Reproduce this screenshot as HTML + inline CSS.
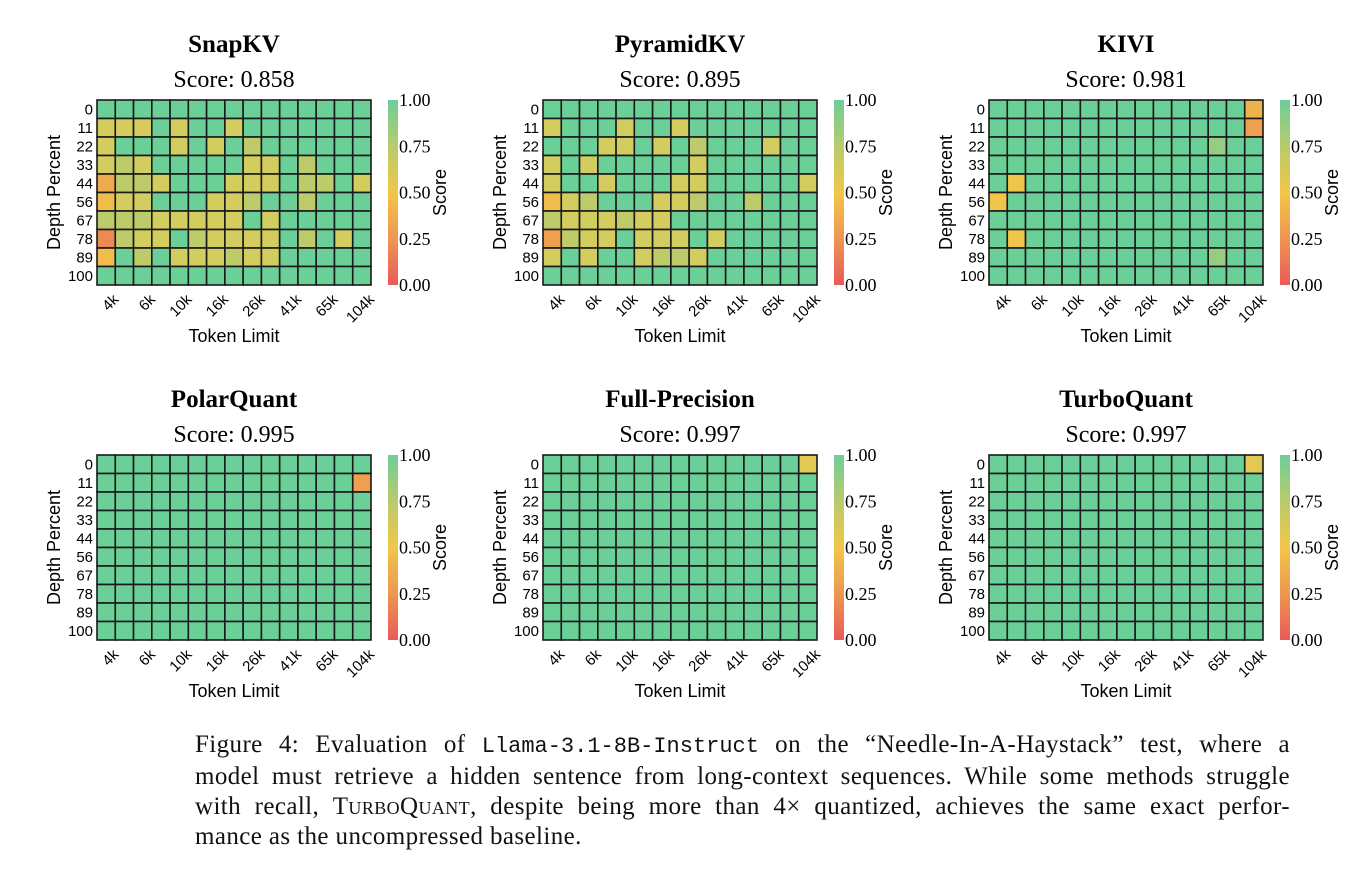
<!DOCTYPE html>
<html><head><meta charset="utf-8"><style>
body{margin:0;background:#fff;width:1356px;height:888px;overflow:hidden;position:relative}
svg{position:absolute;left:0;top:0}
#cap{position:absolute;left:195px;top:730px;width:1095px;font-family:"Liberation Serif",serif;font-size:25px;letter-spacing:0.4px;line-height:30px;color:#111}
#cap div{text-align:justify;text-align-last:justify;white-space:nowrap}
#cap div.last{text-align-last:left}
.mono{font-family:"Liberation Mono",monospace;font-size:22px;letter-spacing:0}
.sc{font-variant:small-caps}
</style></head><body>
<svg id="fig" width="1356" height="720">
<defs><linearGradient id="cm" x1="0" y1="1" x2="0" y2="0">
<stop offset="0" stop-color="#e85a5a"/><stop offset="0.25" stop-color="#ee9650"/><stop offset="0.5" stop-color="#f2c64a"/><stop offset="0.75" stop-color="#b9cb6c"/><stop offset="1" stop-color="#6bcf98"/></linearGradient></defs>
</svg>
<div id="cap">
<div>Figure 4: Evaluation of <span class="mono">Llama-3.1-8B-Instruct</span> on the “Needle-In-A-Haystack” test, where a</div>
<div>model must retrieve a hidden sentence from long-context sequences. While some methods struggle</div>
<div>with recall, <span class="sc">TurboQuant</span>, despite being more than 4× quantized, achieves the same exact perfor-</div>
<div class="last">mance as the uncompressed baseline.</div>
</div>
<script>
const depths=[0,11,22,33,44,56,67,78,89,100];
const tokenTicks=["4k","6k","10k","16k","26k","41k","65k","104k"];
const nCols=15;
const titles=["SnapKV","PyramidKV","KIVI","PolarQuant","Full-Precision","TurboQuant"];
const scores=["0.858","0.895","0.981","0.995","0.997","0.997"];
const cbTicks=[0,0.25,0.5,0.75,1];
function G(){return Array(15).fill(1);}
const snapkv=[G(),
[.6,.6,.6,1,.6,1,1,.6,1,1,1,1,1,1,1],
[.6,1,1,1,.6,1,.6,1,.7,1,1,1,1,1,1],
[.6,.7,.6,1,1,1,1,1,.6,.6,1,.7,1,1,1],
[.35,.7,.7,.6,1,1,1,.6,.6,.6,1,.7,.7,1,.6],
[.45,.6,.6,1,1,1,.6,.6,.7,1,1,.7,1,1,1],
[.7,.7,.7,.6,.6,.6,.6,.6,1,.6,1,1,1,1,1],
[.2,.7,.6,.6,1,.7,.6,.6,.6,.6,1,.7,1,.6,1],
[.45,1,.7,1,.6,.6,.6,.7,.6,.6,1,1,1,1,1],G()];
const pyramidkv=[G(),
[.6,1,1,1,.6,1,1,.6,1,1,1,1,1,1,1],
[1,1,1,.6,.6,1,.6,1,.7,1,1,1,.6,1,1],
[.6,1,.6,1,1,1,1,1,.6,1,1,1,1,1,1],
[.6,1,1,.6,1,1,1,.6,.6,1,1,1,1,1,.6],
[.45,.6,.7,1,1,1,.6,.6,.7,1,1,.7,1,1,1],
[.7,.6,.6,.6,.7,.6,.6,1,1,1,1,1,1,1,1],
[.3,.7,.6,.6,1,.6,.6,.6,1,.6,1,1,1,1,1],
[.6,1,.6,1,1,.6,.7,.7,.6,1,1,1,1,1,1],G()];
const kivi=[G(),G(),G(),G(),G(),G(),G(),G(),G(),G()];
kivi[0][14]=.4;kivi[1][14]=.3;kivi[2][12]=.85;kivi[4][1]=.5;kivi[5][0]=.5;kivi[7][1]=.5;kivi[8][12]=.85;
const polar=[G(),G(),G(),G(),G(),G(),G(),G(),G(),G()];polar[1][14]=.3;
const full=[G(),G(),G(),G(),G(),G(),G(),G(),G(),G()];full[0][14]=.55;
const turbo=[G(),G(),G(),G(),G(),G(),G(),G(),G(),G()];turbo[0][14]=.55;
const datasets=[snapkv,pyramidkv,kivi,polar,full,turbo];

const stops=[[0,[232,90,90]],[.25,[238,150,80]],[.5,[240,198,74]],[.6,[211,204,94]],[.7,[190,203,106]],[1,[107,207,152]]];
function color(v){for(let i=1;i<stops.length;i++){if(v<=stops[i][0]){const a=stops[i-1],b=stops[i];const t=(v-a[0])/(b[0]-a[0]);const c=a[1].map((x,k)=>Math.round(x+(b[1][k]-x)*t));return`rgb(${c})`;}}return'rgb(107,207,152)';}
const svg=document.getElementById('fig');const NS='http://www.w3.org/2000/svg';
function mk(tag,attrs,txt){const e=document.createElementNS(NS,tag);for(const k in attrs)e.setAttribute(k,attrs[k]);if(txt!==undefined)e.textContent=txt;svg.appendChild(e);return e;}
const W=274,H=185;
datasets.forEach((d,p)=>{
 const ox=97+446*(p%3), oy=p<3?100:455;
 const xs=c=>ox+c*W/nCols, ys=r=>oy+r*H/depths.length;
 const cx=ox+W/2;
 let e=mk('text',{x:cx,y:oy-48,'text-anchor':'middle','font-family':'Liberation Serif,serif','font-size':25,'font-weight':'bold'},titles[p]);
 
 e=mk('text',{x:cx,y:oy-13,'text-anchor':'middle','font-family':'Liberation Serif,serif','font-size':24},'Score:  '+scores[p]);
 
 d.forEach((row,r)=>row.forEach((v,c)=>{
  const el=mk('rect',{x:xs(c),y:ys(r),width:W/nCols,height:H/depths.length,fill:color(v),stroke:'#1a1a1a','stroke-width':1.6});
  
  
 }));
 depths.forEach((dp,r)=>{const t=mk('text',{x:ox-4,y:ys(r)+H/20+5,'text-anchor':'end','font-family':'Liberation Sans,sans-serif','font-size':15},dp);
  });
 tokenTicks.forEach((tk,i)=>{const x=xs(i*2)+W/nCols/2+6,y=oy+H+8;
  const t=mk('text',{x:x,y:y,'text-anchor':'end','font-family':'Liberation Sans,sans-serif','font-size':15,transform:`rotate(-45 ${x} ${y})`,'dominant-baseline':'hanging'},tk);
  });
 e=mk('text',{x:cx,y:oy+H+57,'text-anchor':'middle','font-family':'Liberation Sans,sans-serif','font-size':18},'Token Limit');
 
 e=mk('text',{x:ox-37,y:oy+H/2,'text-anchor':'middle','font-family':'Liberation Sans,sans-serif','font-size':18,transform:`rotate(-90 ${ox-37} ${oy+H/2})`},'Depth Percent');
 
 const bx=ox+291;
 e=mk('rect',{x:bx,y:oy,width:10,height:H,fill:'url(#cm)'});
 
 cbTicks.forEach(v=>{const t=mk('text',{x:bx+11,y:oy+H-v*H+6,'font-family':'Liberation Serif,serif','font-size':18},v.toFixed(2));
  });
 e=mk('text',{x:bx+58,y:oy+H/2,'text-anchor':'middle','font-family':'Liberation Sans,sans-serif','font-size':18,transform:`rotate(-90 ${bx+58} ${oy+H/2})`},'Score');
 
});
</script>
</body></html>
